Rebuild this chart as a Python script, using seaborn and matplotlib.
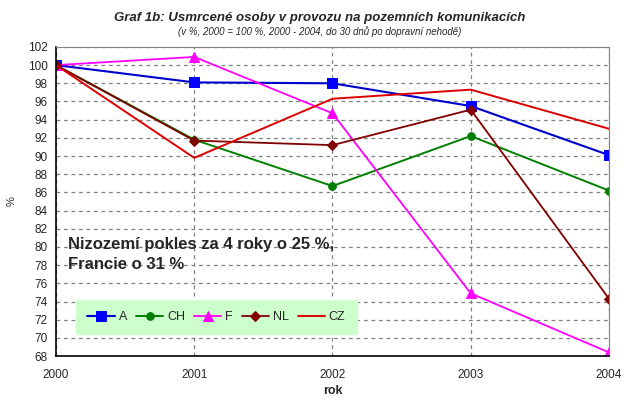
import matplotlib
matplotlib.use("Agg")
import matplotlib.pyplot as plt
import seaborn as sns
import pandas as pd

years = [2000, 2001, 2002, 2003, 2004]
series_names = ["A", "CH", "F", "NL", "CZ"]
A = [100, 98.1, 98.0, 95.5, 90.1]
CH = [100, 91.8, 86.7, 92.2, 86.2]
F = [100, 100.9, 94.7, 74.9, 68.4]
NL = [100, 91.7, 91.2, 95.1, 74.3]
CZ = [100, 89.8, 96.3, 97.3, 93.0]
yticks = list(range(68, 103, 2))

sns.set_style("white")
plt.rcParams['font.family'] = ['Liberation Sans', 'DejaVu Sans']

df = pd.DataFrame({
    "rok": years * 5,
    "val": A + CH + F + NL + CZ,
    "serie": sum([[n] * 5 for n in series_names], []),
})

styles = {
    "A": dict(color="#0000cc", marker="s", mfc="#0000ff", mec="#0000ff", ms=6.5, lw=1.5),
    "CH": dict(color="#008000", marker="o", mfc="#008000", mec="#008000", ms=5.5, lw=1.4),
    "F": dict(color="#ff00ff", marker="^", mfc="#ff00ff", mec="#ff00ff", ms=7, lw=1.3),
    "NL": dict(color="#800000", marker="D", mfc="#800000", mec="#800000", ms=5, lw=1.3),
    "CZ": dict(color="#dd0000", marker=None, ms=0, lw=1.4),
}

fig = plt.figure(figsize=(6.27, 4.01), dpi=100)
ax = fig.add_axes([0.0893, 0.112, 0.882, 0.771])

for name in series_names:
    sub = df[df["serie"] == name]
    st = styles[name]
    sns.lineplot(data=sub, x="rok", y="val", ax=ax, label=name, **st)

ax.set_xlim(2000, 2004)
ax.set_ylim(68, 102)
ax.set_xticks(years)
ax.set_yticks(yticks)
ax.tick_params(axis="both", labelsize=8.5, length=4, direction="out", width=1, color="black")
ax.tick_params(axis="x", pad=5)
ax.tick_params(axis="y", pad=2)
ax.grid(True, linestyle=(0, (3, 3)), color="#808080", lw=0.9)
ax.set_axisbelow(True)
for side in ["top", "right"]:
    ax.spines[side].set_color("#808080")
for side in ["left", "bottom"]:
    ax.spines[side].set_color("black")
    ax.spines[side].set_linewidth(1.2)

ax.set_xlabel("rok", fontsize=9, fontweight="bold", labelpad=3)
ax.set_ylabel("%", fontsize=8, labelpad=8)

leg = ax.legend(ncol=5, loc="lower left", bbox_to_anchor=(0.025, 0.05, 0.53, 0.12),
                mode="expand", frameon=True, fancybox=False, facecolor="#ccffcc",
                edgecolor="#ccffcc", framealpha=1, fontsize=9, handlelength=2.2,
                handletextpad=0.3, columnspacing=0.8, borderpad=0.9)

ax.text(0.022, 0.385, "Nizozemí pokles za 4 roky o 25 %,\nFrancie o 31 %",
        transform=ax.transAxes, fontsize=12, fontweight="bold", va="top", ha="left",
        linespacing=1.45)

fig.text(0.51, 0.955, "Graf 1b: Usmrcené osoby v provozu na pozemních komunikacích",
         ha="center", va="center", fontsize=9.5, fontweight="bold", style="italic")
fig.text(0.51, 0.922, "(v %, 2000 = 100 %, 2000 - 2004, do 30 dnů po dopravní nehodě)",
         ha="center", va="center", fontsize=7, style="italic")

fig.savefig("out.png", dpi=100)
